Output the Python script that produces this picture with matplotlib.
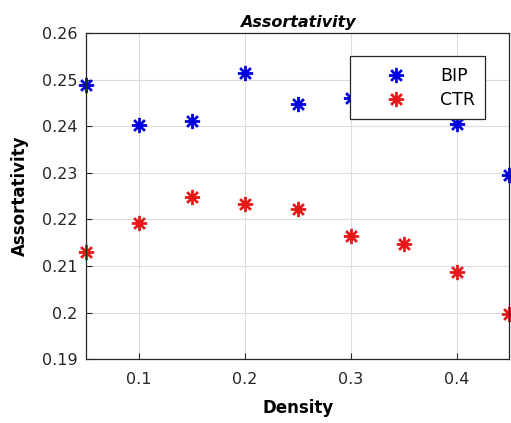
import numpy as np
import matplotlib.pyplot as plt
from matplotlib.path import Path

# data
density = [0.05, 0.10, 0.15, 0.20, 0.25, 0.30, 0.35, 0.40, 0.45]
bip = [0.2488, 0.2403, 0.2411, 0.2515, 0.2447, 0.2461, 0.2480, 0.2405, 0.2295]
ctr = [0.2129, 0.2193, 0.2247, 0.2234, 0.2222, 0.2165, 0.2147, 0.2086, 0.1997]

# MATLAB style asterisk (plus + cross)
d = 0.7071
verts = [(-1, 0), (1, 0), (0, -1), (0, 1), (-d, -d), (d, d), (-d, d), (d, -d)]
codes = [Path.MOVETO, Path.LINETO] * 4
star = Path(verts, codes)

fig = plt.figure(figsize=(5.11, 4.23), dpi=100)
ax = fig.add_axes([0.168, 0.151, 0.829, 0.771])

ax.plot(density, bip, linestyle='none', marker=star, markersize=11,
        markeredgewidth=2.0, color='#0000e0', label='BIP')
ax.plot(density, ctr, linestyle='none', marker=star, markersize=11,
        markeredgewidth=2.0, color='#e81818', label='CTR')

ax.set_xlim(0.05, 0.45)
ax.set_ylim(0.19, 0.26)
ax.set_xticks([0.1, 0.2, 0.3, 0.4])
ax.set_xticklabels(['0.1', '0.2', '0.3', '0.4'])
ax.set_yticks([0.19, 0.20, 0.21, 0.22, 0.23, 0.24, 0.25, 0.26])
ax.set_yticklabels(['0.19', '0.2', '0.21', '0.22', '0.23', '0.24', '0.25', '0.26'])
ax.tick_params(direction='in', labelsize=11.5, colors='#262626', length=4)
ax.tick_params(axis='x', pad=9)
ax.tick_params(axis='y', pad=6)
ax.grid(True, color='#dcdcdc', linewidth=0.8)
ax.set_axisbelow(True)
for s in ax.spines.values():
    s.set_color('#262626')
    s.set_linewidth(0.9)

for m in ax.get_lines():
    m.set_clip_on(False)

ax.set_xlabel('Density', fontsize=12, fontweight='bold', labelpad=9)
ax.set_ylabel('Assortativity', fontsize=12, fontweight='bold', labelpad=9)
ax.set_title('Assortativity', fontsize=11.5, fontweight='bold', style='italic', pad=4)

leg = ax.legend(loc='upper right', bbox_to_anchor=(0.943, 0.928), fontsize=12.5,
                frameon=True, fancybox=False, framealpha=1, edgecolor='#262626',
                handletextpad=0.5, borderpad=0.6, labelspacing=0.35, handlelength=4.1,
                borderaxespad=0)
leg.get_frame().set_linewidth(0.9)
leg.set_zorder(5)

fig.savefig('out.png', dpi=100)
